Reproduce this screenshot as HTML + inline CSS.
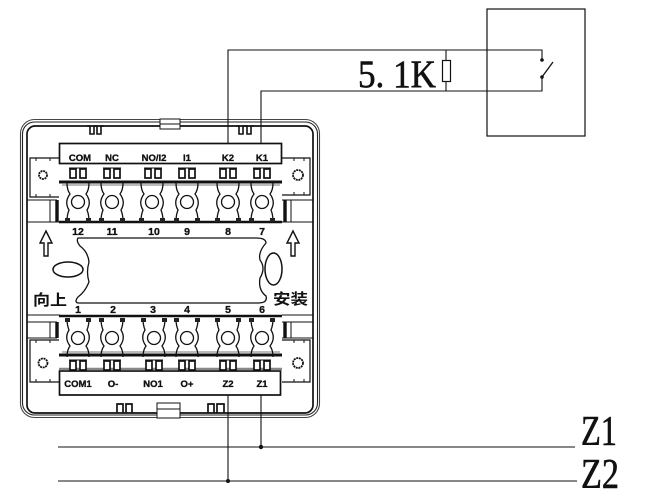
<!DOCTYPE html>
<html><head><meta charset="utf-8"><style>
html,body{margin:0;padding:0;background:#fff}
svg{display:block}
.l{font:bold 9.5px "Liberation Sans",sans-serif;fill:#111;text-anchor:middle;stroke:#111;stroke-width:.35}
.n{font:bold 10.5px "Liberation Sans",sans-serif;fill:#111;text-anchor:middle;stroke:#111;stroke-width:.3}
.c{font:bold 15px "Noto Sans CJK SC",sans-serif;fill:#111}
.s{font-family:"Liberation Serif",serif;fill:#111;stroke:#111;stroke-width:.6}
</style></head><body>
<svg width="650" height="499" viewBox="0 0 650 499" xmlns="http://www.w3.org/2000/svg" fill="none" stroke="#111" stroke-width="1">
<defs>
<g id="lug">
  <path d="M-11 -19 Q-11 -12 -8 -8 Q-14 0 -9 8 Q-11 13 -11 19 M11 -19 Q11 -12 8 -8 Q14 0 9 8 Q11 13 11 19" stroke-width="1.3"/>
  <circle r="6.5" stroke-width="1.3"/>
  <rect x="-13" y="16" width="5" height="4" fill="#222" stroke="none"/>
  <rect x="8" y="16" width="5" height="4" fill="#222" stroke="none"/>
</g>
<g id="pins">
  <path d="M-9 0H9" stroke-width="1"/>
  <rect x="-8" y="1" width="6" height="9" fill="#fff" stroke-width="1.7"/>
  <rect x="2" y="1" width="6" height="9" fill="#fff" stroke-width="1.7"/>
</g>
</defs>
<!-- frames -->
<rect x="20.5" y="119.5" width="299" height="298" rx="14" stroke="#444" stroke-width="1.1"/>
<rect x="22.5" y="122" width="295" height="293" rx="12" stroke="#222" stroke-width="1.1"/>
<rect x="27" y="126" width="286" height="287" rx="8" stroke-width="1.7"/>
<!-- tabs and clips -->
<rect x="160" y="119" width="20" height="10" fill="#fff"/><path d="M160 124H180"/>
<rect x="157" y="403" width="23" height="15" fill="#fff"/><path d="M157 409H180"/>
<path d="M87 126H90V134H94V126H97V134H101V126H104M236 126H239V134H243V126H247V134H251V126H254" stroke-width="1.6"/>
<path d="M117 413V404H123V413M126 413V404H132V413M208 413V404H214V413M217 413V404H224V413" stroke-width="1.7"/>
<!-- ears -->
<path d="M59 158H30V197H59M282 158H310V195H282" fill="#fff" stroke-width="1.2"/>
<path d="M59 340H30V382H59M282 340H310V382H282" fill="#fff" stroke-width="1.2"/>
<path d="M36 158V161M50 158V161M36 194V197M50 194V197M294 158V161M304 158V161M294 192V195M304 192V195M36 340V343M50 340V343M36 379V382M50 379V382M294 340V343M304 340V343M294 379V382M304 379V382"/>
<circle cx="43" cy="175" r="4" stroke-width="1.8" stroke-dasharray="2 .7"/><circle cx="298" cy="175" r="5" stroke-width="1.8" stroke-dasharray="2 .7"/>
<circle cx="43" cy="363" r="4.5" stroke-width="1.8" stroke-dasharray="2 .7"/><circle cx="298" cy="363" r="5" stroke-width="1.8" stroke-dasharray="2 .7"/>
<!-- side details -->
<path d="M27 200H57M27 222H59M50 200V222M282 222H313M282 200H313M291 200V222"/>
<path d="M27 315H60M27 322H57M27 338H57M50 322V338M282 315H313M282 322H313M282 338H313M291 322V338"/>
<path d="M57 200V222M57 322V338M285 200V222M285 322V338" stroke-width="3.4"/>
<!-- connector blocks -->
<rect x="59.5" y="143.5" width="222" height="20" fill="#fff" stroke-width="1.7"/>
<rect x="59.5" y="371" width="221" height="24" fill="#fff" stroke-width="1.7"/>
<path d="M59 369H282" stroke="#888" stroke-width="2.5"/>
<path d="M59 182H282M59 355H282" stroke-width="3"/>
<path d="M59 222H282M59 316H282" stroke-width="2.4"/>
<path d="M62 185H280M62 352H280" stroke="#777"/>
<!-- terminals -->
<use href="#lug" x="78" y="202"/><use href="#lug" x="112" y="202"/><use href="#lug" x="152" y="202"/><use href="#lug" x="187" y="202"/><use href="#lug" x="228" y="202"/><use href="#lug" x="262" y="202"/>
<g transform="translate(0,536) scale(1,-1)"><use href="#lug" x="78" y="198"/><use href="#lug" x="112" y="198"/><use href="#lug" x="154" y="198"/><use href="#lug" x="187" y="198"/><use href="#lug" x="228" y="198"/><use href="#lug" x="262" y="198"/></g>
<use href="#pins" x="78" y="168"/><use href="#pins" x="112" y="168"/><use href="#pins" x="153" y="168"/><use href="#pins" x="187" y="168"/><use href="#pins" x="228" y="168"/><use href="#pins" x="262" y="168"/>
<use href="#pins" x="78" y="360"/><use href="#pins" x="112" y="360"/><use href="#pins" x="154" y="360"/><use href="#pins" x="187" y="360"/><use href="#pins" x="228" y="360"/><use href="#pins" x="262" y="360"/>
<!-- centre outline -->
<path d="M78 238H256Q266 238 266 243Q258 252 260 260Q266 268 260 278Q258 290 266 296Q268 303 258 303H78Q74 302 78 297Q85 292 89 282Q86 272 89 262Q88 252 80 246Q76 241 78 238Z" stroke-width="1.3"/>
<ellipse cx="68" cy="269.5" rx="15" ry="7.5" stroke-width="1.5"/>
<ellipse cx="273.5" cy="269" rx="8.5" ry="16" stroke-width="1.5"/>
<!-- arrows -->
<path d="M46 231L40 243H44V256H48V243H52Z M293 231L287 243H291V256H295V243H299Z" stroke-width="1.4"/>
<!-- labels -->
<g>
<text class="l" x="80" y="161">COM</text><text class="l" x="112" y="161">NC</text><text class="l" x="154" y="161">NO/I2</text><text class="l" x="187" y="161">I1</text><text class="l" x="228" y="161">K2</text><text class="l" x="262" y="161">K1</text>
<text class="l" x="78" y="387">COM1</text><text class="l" x="113" y="387">O-</text><text class="l" x="153" y="387">NO1</text><text class="l" x="187" y="387">O+</text><text class="l" x="228" y="387">Z2</text><text class="l" x="262" y="387">Z1</text>
<text class="n" x="78" y="235">12</text><text class="n" x="112" y="235">11</text><text class="n" x="154" y="235">10</text><text class="n" x="187" y="235">9</text><text class="n" x="228" y="235">8</text><text class="n" x="262" y="235">7</text>
<text class="n" x="78" y="313">1</text><text class="n" x="113" y="313">2</text><text class="n" x="153" y="313">3</text><text class="n" x="187" y="313">4</text><text class="n" x="228" y="313">5</text><text class="n" x="262" y="313">6</text>
</g>
<g stroke="none">
<text class="c" x="33" y="305" textLength="34" lengthAdjust="spacingAndGlyphs">向上</text>
<text class="c" x="273" y="304" textLength="35" lengthAdjust="spacingAndGlyphs">安装</text>
</g>
<text class="s" x="358" y="87" font-size="39" textLength="78" lengthAdjust="spacingAndGlyphs">5. 1K</text>
<text class="s" x="581" y="445" font-size="42" textLength="36" lengthAdjust="spacingAndGlyphs">Z1</text>
<text class="s" x="581" y="488" font-size="42" textLength="38" lengthAdjust="spacingAndGlyphs">Z2</text>
<!-- wiring -->
<path d="M228 143V50H542V59M261 143V91H542V77M446 50V60M446 82V91M228 395V481M261 395V447M58 447H575M58 481H577" stroke="#111" stroke-width="1.1"/>
<rect x="442.5" y="60.5" width="8" height="21" fill="#fff" stroke-width="1.2"/>
<rect x="487" y="9" width="98" height="127" stroke-width="1.2"/>
<path d="M542 77L553 62" stroke-width="1.3"/>
<circle cx="542" cy="60" r="1.8" fill="#111" stroke="none"/><circle cx="542" cy="77" r="1.8" fill="#111" stroke="none"/>
<circle cx="261" cy="447" r="2.2" fill="#111" stroke="none"/><circle cx="228" cy="481" r="2" fill="#111" stroke="none"/>
</svg>
</body></html>
